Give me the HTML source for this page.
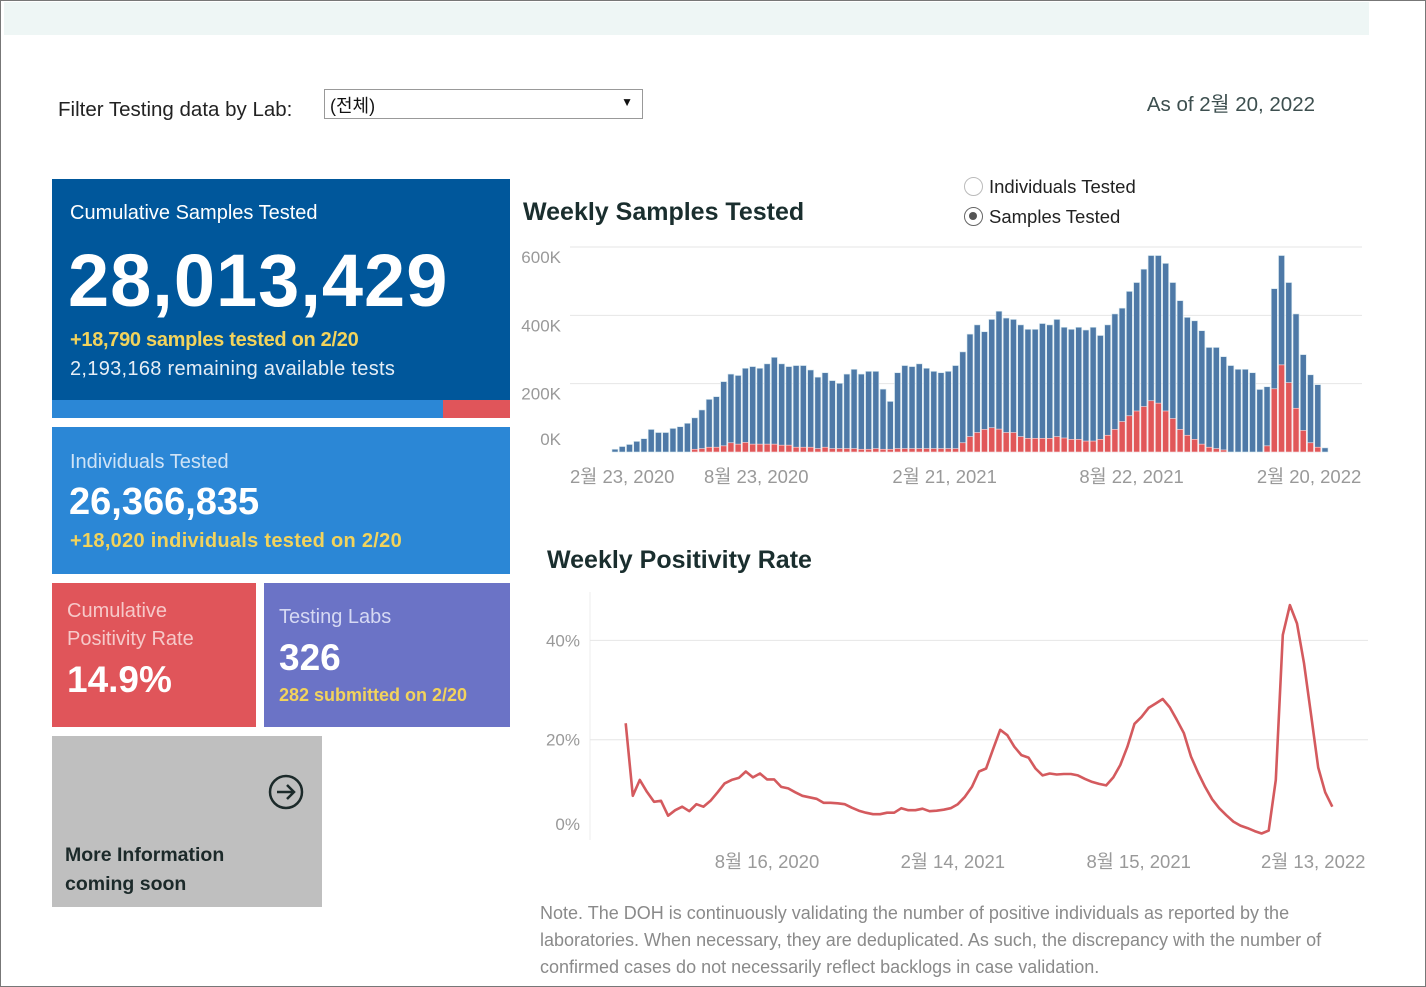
<!DOCTYPE html>
<html><head><meta charset="utf-8">
<style>
*{margin:0;padding:0;box-sizing:border-box}
body{width:1426px;height:987px;position:relative;overflow:hidden;background:#fff;font-family:"Liberation Sans","Noto Sans CJK KR",sans-serif}
.a{position:absolute;white-space:nowrap}
#frame{position:absolute;left:0;top:0;width:1426px;height:987px;border:1px solid #777}
</style></head><body>
<div id="frame"></div>
<div class="a" style="left:4px;top:2px;width:1365px;height:33px;background:#eef6f5"></div>
<div class="a" style="left:58px;top:98px;font-size:20.5px;color:#222">Filter Testing data by Lab:</div>
<div class="a" style="left:324px;top:89px;width:319px;height:30px;border:1px solid #999;font-size:18px;color:#111;padding:2px 0 0 5px">(전체)<span style="position:absolute;right:9px;top:5px;font-size:12px">▼</span></div>
<div class="a" style="right:111px;top:87px;font-size:20.5px;color:#3d4f4f">As of 2월 20, 2022</div>

<div class="a" style="left:52px;top:179px;width:458px;height:221px;background:#00579b"></div>
<div class="a" style="left:70px;top:202px;font-size:20px;color:#fff">Cumulative Samples Tested</div>
<div class="a" style="left:68px;top:238px;font-size:74px;font-weight:bold;color:#fff;letter-spacing:1px">28,013,429</div>
<div class="a" style="left:70px;top:329px;font-size:20px;font-weight:bold;color:#f2d35c;letter-spacing:-0.3px">+18,790 samples tested on 2/20</div>
<div class="a" style="left:70px;top:358px;font-size:20px;color:#e6eef6;letter-spacing:0.3px">2,193,168 remaining available tests</div>
<div class="a" style="left:52px;top:400px;width:391px;height:18px;background:#2b87d6"></div>
<div class="a" style="left:443px;top:400px;width:67px;height:18px;background:#e0555a"></div>

<div class="a" style="left:52px;top:427px;width:458px;height:147px;background:#2b87d6"></div>
<div class="a" style="left:70px;top:451px;font-size:20px;color:#cfe3f6">Individuals Tested</div>
<div class="a" style="left:69px;top:481px;font-size:38px;font-weight:bold;color:#fff">26,366,835</div>
<div class="a" style="left:70px;top:530px;font-size:20px;font-weight:bold;color:#f2d35c;letter-spacing:0.3px">+18,020 individuals tested on 2/20</div>

<div class="a" style="left:52px;top:583px;width:204px;height:144px;background:#e0555a"></div>
<div class="a" style="left:67px;top:597px;font-size:20px;line-height:28px;color:#f6c9c9">Cumulative<br>Positivity Rate</div>
<div class="a" style="left:67px;top:659px;font-size:37px;font-weight:bold;color:#fff">14.9%</div>

<div class="a" style="left:264px;top:583px;width:246px;height:144px;background:#6b73c6"></div>
<div class="a" style="left:279px;top:606px;font-size:20px;color:#d6d9f3">Testing Labs</div>
<div class="a" style="left:279px;top:637px;font-size:37px;font-weight:bold;color:#fff">326</div>
<div class="a" style="left:279px;top:685px;font-size:18px;font-weight:bold;color:#f2d35c">282 submitted on 2/20</div>

<div class="a" style="left:52px;top:736px;width:270px;height:171px;background:#bfbfbf"></div>
<svg class="a" style="left:268px;top:774px" width="36" height="36" viewBox="0 0 36 36"><circle cx="18" cy="18" r="16" fill="none" stroke="#1c2a2a" stroke-width="2.5"/><path d="M9 18H26M19 11L26 18L19 25" fill="none" stroke="#1c2a2a" stroke-width="2.5"/></svg>
<div class="a" style="left:65px;top:841px;font-size:19.5px;line-height:29px;font-weight:bold;color:#1c2a2a">More Information<br>coming soon</div>

<div class="a" style="left:523px;top:198px;font-size:25px;font-weight:bold;color:#1a2e2e">Weekly Samples Tested</div>
<div class="a" style="left:964px;top:176px;font-size:18.5px;color:#222"><span style="display:inline-block;width:19px;height:19px;border:1.5px solid #bbb;border-radius:50%;vertical-align:-3px;margin-right:6px"></span>Individuals Tested</div>
<div class="a" style="left:964px;top:206px;font-size:18.5px;color:#222"><span style="display:inline-block;width:19px;height:19px;border:1.5px solid #666;border-radius:50%;vertical-align:-3px;margin-right:6px;position:relative"><span style="position:absolute;left:4px;top:4px;width:8px;height:8px;border-radius:50%;background:#555"></span></span>Samples Tested</div>
<div class="a" style="left:547px;top:546px;font-size:25px;font-weight:bold;color:#1a2e2e">Weekly Positivity Rate</div>
<div class="a" style="left:540px;top:900px;font-size:18px;line-height:27px;color:#8a8a8a;white-space:normal;width:830px">Note. The DOH is continuously validating the number of positive individuals as reported by the laboratories. When necessary, they are deduplicated. As such, the discrepancy with the number of confirmed cases do not necessarily reflect backlogs in case validation.</div>

<svg id="charts" class="a" style="left:0;top:0" width="1426" height="987"></svg>

<script>
const samplesTotal=[8,16,22,31,39,66,57,57,69,74,84,100,123,154,162,206,228,224,245,250,245,258,277,258,250,253,253,240,219,232,209,201,228,242,228,236,236,184,148,232,253,250,258,245,236,232,236,253,293,345,372,352,388,412,392,388,372,359,359,376,372,388,365,359,365,357,365,341,372,404,421,470,496,535,575,575,552,496,443,394,384,355,306,306,279,253,242,242,232,183,191,478,575,496,404,285,226,197,12];
const samplesPositive=[0,0,0,0,0,0,0,0,0,0,0,8,10,14,14,18,27,23,28,23,23,23,23,20,20,14,14,14,10,14,10,10,10,10,8,8,10,8,8,10,10,10,10,10,10,10,10,10,27,45,57,66,71,67,57,57,45,40,40,40,40,45,41,37,37,32,32,37,49,66,89,106,120,133,150,143,120,98,66,49,37,23,14,10,6,0,0,0,0,0,18,185,255,203,128,63,27,14,0];
const samplesTicks=[0,200,400,600];
const samplesTickLabels=["0K","200K","400K","600K"];
const samplesDateIdx=[1,19.5,45.5,71.3,95.8];
const samplesDateLabels=["2월 23, 2020","8월 23, 2020","2월 21, 2021","8월 22, 2021","2월 20, 2022"];
const positivity=[23.3,8.7,11.9,9.5,7.5,7.7,4.7,5.8,6.5,5.6,7.0,6.5,7.7,9.4,11.2,11.9,12.3,13.6,12.4,13.2,12.0,12.0,10.5,10.2,9.4,8.7,8.4,8.1,7.3,7.3,7.2,7.0,6.3,5.7,5.3,5.0,5.0,5.3,5.3,6.2,5.8,5.8,6.1,5.6,5.7,5.9,6.2,7.0,8.5,10.5,13.6,14.2,18.1,22.0,20.9,18.6,16.9,16.4,14.2,12.8,13.2,13.0,13.1,13.1,12.8,12.1,11.5,11.1,10.8,12.4,14.9,18.6,23.2,24.6,26.4,27.3,28.2,26.5,24.0,21.3,16.6,13.4,10.5,8.0,6.2,4.8,3.5,2.7,2.2,1.6,1.1,1.7,11.9,41.1,47.1,43.4,35.4,25.0,14.4,9.4,6.5];
const posTicks=[0,20,40];
const posTickLabels=["0%","20%","40%"];
const posDateIdx=[20,46.3,72.6,97.3];
const posDateLabels=["8월 16, 2020","2월 14, 2021","8월 15, 2021","2월 13, 2022"];

const NS="http://www.w3.org/2000/svg";
const svg=document.getElementById('charts');
function mk(tag,attrs){const e=document.createElementNS(NS,tag);for(const k in attrs)e.setAttribute(k,attrs[k]);svg.appendChild(e);return e;}

const bx=i=>615+i*(1325-615)/(samplesTotal.length-1);
const by=v=>452-v*(205/600);
samplesTicks.forEach((t,i)=>{
  if(t>0){const g=mk('line',{x1:570,x2:1362,y1:by(t),y2:by(t),stroke:'#e6e6e6','stroke-width':1});
  
  }
  const tx=mk('text',{x:561,y:(t===0?by(t)-7:by(t)+16),'text-anchor':'end','font-size':17,fill:'#999','font-family':'Liberation Sans, sans-serif'});
  tx.textContent=samplesTickLabels[i];
  
  
});
samplesTotal.forEach((v,i)=>{
  const r=mk('rect',{x:bx(i)-3,y:by(v),width:6,height:by(0)-by(v),fill:'#4e79a7',stroke:'#d4e6ee','stroke-width':0.6});
  
  
  const p=samplesPositive[i];
  if(p>0){const q=mk('rect',{x:bx(i)-3,y:by(p),width:6,height:by(0)-by(p),fill:'#e15759',stroke:'#fbe0e0','stroke-width':0.6});
  
  }
});
samplesDateIdx.forEach((d,i)=>{
  const t=mk('text',{x:bx(d),y:483,'text-anchor':'middle','font-size':18.5,fill:'#999','font-family':'Liberation Sans, Noto Sans CJK KR, sans-serif'});
  t.textContent=samplesDateLabels[i];
  
  
});

const lx=i=>625.7+i*(1332.3-625.7)/(positivity.length-1);
const ly=v=>839-v*4.965;
const ax=mk('line',{x1:590,x2:590,y1:592,y2:840,stroke:'#eee','stroke-width':1});


posTicks.forEach((t,i)=>{
  if(t>0){const g=mk('line',{x1:590,x2:1368,y1:ly(t),y2:ly(t),stroke:'#e6e6e6','stroke-width':1});
  
  }
  const tx=mk('text',{x:580,y:(t===0?830:ly(t)+6),'text-anchor':'end','font-size':17,fill:'#999','font-family':'Liberation Sans, sans-serif'});
  tx.textContent=posTickLabels[i];
  
  
});
const pts=positivity.map((v,i)=>lx(i).toFixed(1)+','+ly(v).toFixed(1)).join(' ');
const pl=mk('polyline',{points:pts,fill:'none',stroke:'#d45a5e','stroke-width':2.6,'stroke-linejoin':'round'});


posDateIdx.forEach((d,i)=>{
  const t=mk('text',{x:lx(d),y:868,'text-anchor':'middle','font-size':18.5,fill:'#999','font-family':'Liberation Sans, Noto Sans CJK KR, sans-serif'});
  t.textContent=posDateLabels[i];
  
  
});
</script>
</body></html>
